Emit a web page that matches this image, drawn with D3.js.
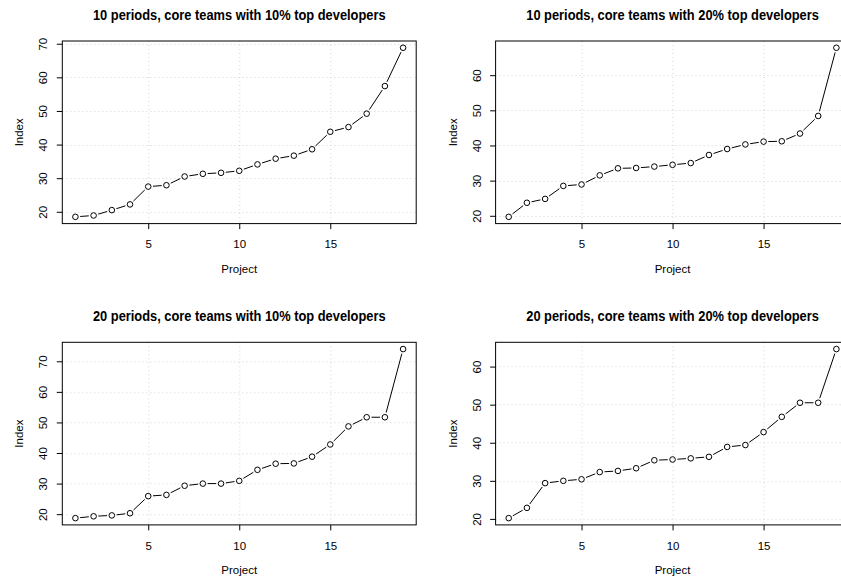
<!DOCTYPE html>
<html>
<head>
<meta charset="utf-8">
<script src="https://cdn.jsdelivr.net/npm/d3@7"></script>
<style>
  html, body { margin: 0; padding: 0; background: #fff; }
  svg { display: block; }
  text { font-family: "Liberation Sans", Arial, Helvetica, sans-serif; fill: #000; }
</style>
</head>
<body>
<svg id="chart" width="841" height="580"></svg>
<script>
// ---- data ----
const projects = [1,2,3,4,5,6,7,8,9,10,11,12,13,14,15,16,17,18,19];
const titles = [
  "10 periods, core teams with 10% top developers",
  "10 periods, core teams with 20% top developers",
  "20 periods, core teams with 10% top developers",
  "20 periods, core teams with 20% top developers"
];
const p10_10 = [18.5,18.9,20.5,22.2,27.5,27.9,30.5,31.3,31.6,32.2,34.1,35.8,36.7,38.6,43.8,45.2,49.2,57.4,68.8];
const p10_20 = [19.7,23.7,24.8,28.5,28.9,31.5,33.5,33.6,34.0,34.5,35.0,37.3,39.0,40.3,41.1,41.2,43.4,48.4,67.8];
const p20_10 = [18.7,19.3,19.6,20.3,25.9,26.3,29.3,30.0,30.0,30.9,34.5,36.5,36.6,38.8,42.8,48.7,51.7,51.7,74.0];
const p20_20 = [20.2,22.9,29.4,30.0,30.4,32.3,32.6,33.3,35.4,35.6,35.9,36.3,38.9,39.4,42.8,46.8,50.5,50.5,64.6];
const seriesList = [p10_10, p10_20, p20_10, p20_20];
const xTicks = [5, 10, 15];
const yTicksList = [
  [20,30,40,50,60,70],
  [20,30,40,50,60],
  [20,30,40,50,60,70],
  [20,30,40,50,60]
];
const xLabel = "Project";
const yLabel = "Index";

// ---- layout ----
const boxes = [
  {x: 62.3, y: 41.0},
  {x: 495.6, y: 41.0},
  {x: 62.3, y: 342.3},
  {x: 495.6, y: 342.3}
];
const W = 353.9, H = 182.6;
const titleWidth = 293;
const svg = d3.select("#chart");

function pad(ext) {
  const r = ext[1] - ext[0];
  return [ext[0] - 0.04 * r, ext[1] + 0.04 * r];
}

seriesList.forEach((vals, k) => {
  const b = boxes[k];
  const g = svg.append("g").attr("transform", `translate(${b.x},${b.y})`);
  const x = d3.scaleLinear().domain(pad(d3.extent(projects))).range([0, W]);
  const y = d3.scaleLinear().domain(pad(d3.extent(vals))).range([H, 0]);
  const yTicks = yTicksList[k];

  // grid
  const grid = g.append("g").attr("stroke", "#d3d3d3").attr("stroke-width", 1).attr("stroke-dasharray", "1,3");
  xTicks.forEach(t => grid.append("line").attr("x1", Math.round(x(t)) + 0.5).attr("x2", Math.round(x(t)) + 0.5).attr("y1", 0).attr("y2", H));
  yTicks.forEach(t => grid.append("line").attr("x1", 0).attr("x2", W).attr("y1", Math.round(y(t)) + 0.5).attr("y2", Math.round(y(t)) + 0.5));

  // axes
  const xa = g.append("g").attr("transform", `translate(0,${H})`)
    .call(d3.axisBottom(x).tickValues(xTicks).tickSize(5.5).tickPadding(11).tickFormat(d3.format("d")));
  xa.select(".domain").remove();
  xa.selectAll("text").attr("font-size", 11.5).attr("font-family", "Liberation Sans, Arial, sans-serif").attr("fill", "#000");
  xa.selectAll("line").attr("stroke", "#000");

  const ya = g.append("g")
    .call(d3.axisLeft(y).tickValues(yTicks).tickSize(5.5).tickFormat(d3.format("d")));
  ya.select(".domain").remove();
  ya.selectAll("line").attr("stroke", "#000");
  ya.selectAll("text")
    .attr("font-size", 11.5).attr("font-family", "Liberation Sans, Arial, sans-serif").attr("fill", "#000")
    .attr("transform", "rotate(-90)")
    .attr("x", 0).attr("y", -15).attr("dy", 0)
    .attr("text-anchor", "middle");

  // box
  g.append("rect").attr("x", 0).attr("y", 0).attr("width", W).attr("height", H)
    .attr("fill", "none").attr("stroke", "#000").attr("stroke-width", 1);

  // line segments (type "b": gaps around points)
  const pts = projects.map((p, i) => [x(p), y(vals[i])]);
  const gap = 4.8;
  const segs = g.append("g").attr("stroke", "#000").attr("stroke-width", 1);
  for (let i = 0; i < pts.length - 1; i++) {
    const [x1, y1] = pts[i], [x2, y2] = pts[i + 1];
    const dx = x2 - x1, dy = y2 - y1, len = Math.hypot(dx, dy);
    if (len <= 2 * gap) continue;
    const ux = dx / len, uy = dy / len;
    segs.append("line")
      .attr("x1", x1 + ux * gap).attr("y1", y1 + uy * gap)
      .attr("x2", x2 - ux * gap).attr("y2", y2 - uy * gap);
  }

  // points
  g.append("g").selectAll("circle").data(projects).join("circle")
    .attr("cx", (p) => x(p)).attr("cy", (p, i) => y(vals[i]))
    .attr("r", 2.8).attr("fill", "none").attr("stroke", "#000").attr("stroke-width", 1);

  // title (horizontally condensed via scale transform)
  const t = g.append("text")
    .attr("text-anchor", "middle").attr("font-size", 14.5).attr("font-weight", "bold")
    .text(titles[k]);
  const natural = t.node().getComputedTextLength() || titleWidth;
  const sx = Math.min(1, titleWidth / natural);
  t.attr("transform", `translate(${W / 2},-21) scale(${sx},1)`);

  // axis labels
  g.append("text").attr("x", W / 2).attr("y", H + 49)
    .attr("text-anchor", "middle").attr("font-size", 11.5).text(xLabel);
  g.append("text").attr("transform", `translate(${-39},${H / 2}) rotate(-90)`)
    .attr("text-anchor", "middle").attr("font-size", 11.5).text(yLabel);
});
</script>
</body>
</html>
